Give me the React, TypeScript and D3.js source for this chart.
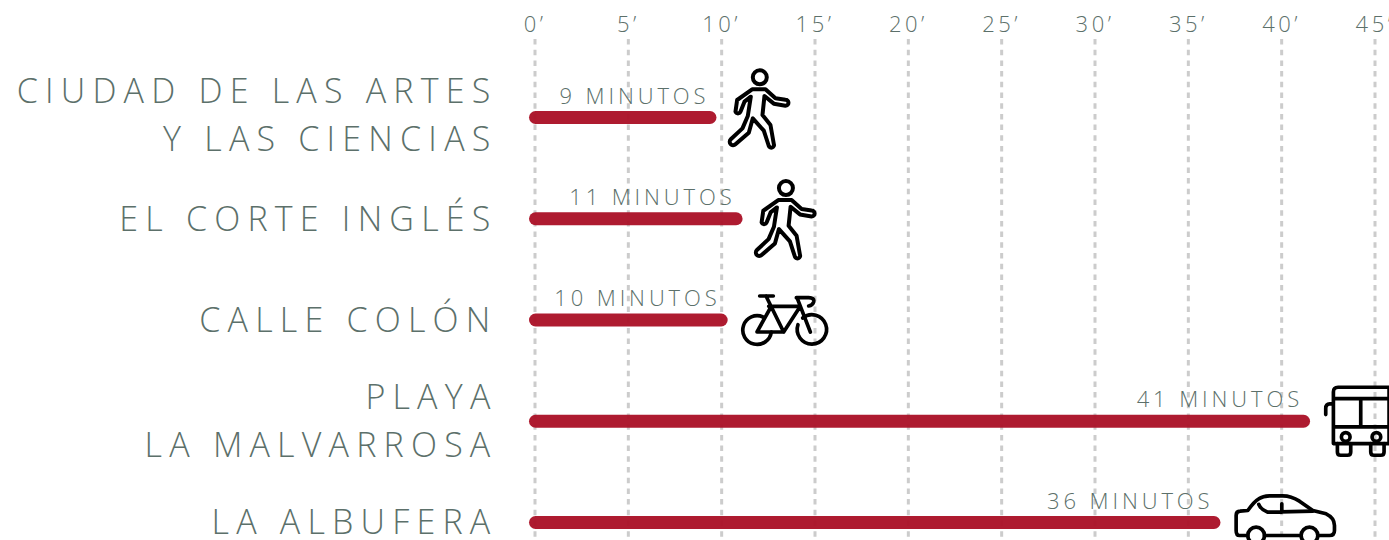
import React from 'react';
import * as d3 from 'd3';

const minuteTicks = [0, 5, 10, 15, 20, 25, 30, 35, 40, 45];
const places = [
  ['CIUDAD DE LAS ARTES', 'Y LAS CIENCIAS'],
  ['EL CORTE INGLÉS'],
  ['CALLE COLÓN'],
  ['PLAYA', 'LA MALVARROSA'],
  ['LA ALBUFERA'],
];
const minuteLabels = [9, 11, 10, 41, 36];
// drawn length of each bar, a little off the label in the original
const barMinutes = [9.4, 10.8, 10, 41.2, 36.4];
const transport = ['walk', 'walk2', 'bike', 'bus', 'car'];

const width = 1389;
const height = 540;
const textColor = '#5c706a';
const barColor = '#ab1228';
const font = '"Open Sans", sans-serif';
const labelNudge = [0, 1, 0, 2, 0];

const x = d3.scaleLinear().domain([0, 45]).range([535, 1375]);
const y = d3.scalePoint<number>().domain([0, 1, 2, 3, 4]).range([117.5, 522.5]);

const iconStyle = {
  fill: 'none',
  stroke: '#000',
  strokeWidth: 11,
  strokeLinecap: 'round' as const,
  strokeLinejoin: 'round' as const,
};

// icons are traced at 3x, offset from the end of their bar
const WalkIcon = () => (
  <g {...iconStyle} strokeWidth={12}>
    <circle cx={118} cy={52} r={21} />
    <path d="M95 88H135L165 115L195 119A9 9 0 0 1 195 137L160 131L132 108L126 165L150 195L160 252A8 8 0 0 1 145 258L130 212L97 175L85 218L45 253A10 10 0 0 1 31 238L66 205L82 168L91 110L72 125L60 155A8 8 0 0 1 45 155L50 120Z" />
  </g>
);

const BikeIcon = () => (
  <g {...iconStyle}>
    <path d="M103 105A43 43 0 1 0 128 150" />
    <path d="M222 108A44 44 0 1 1 208 128" />
    <path d="M93 42H134M112 42L165 150H85L125 78M120 73H215M165 150L215 73M203 47H240Q258 47 255 60Q252 70 240 72M205 47L245 150" />
  </g>
);

const BusIcon = () => (
  <g {...iconStyle}>
    <path d="M133 50Q133 36 147 36H300V205H133ZM133 70H300M133 155H300M215 70V155M133 86H122Q110 86 110 100V118" />
    <circle cx={170} cy={185} r={13} />
    <circle cx={262} cy={185} r={13} />
    <path d="M145 205V230Q145 240 155 240H175Q185 240 185 230V205M245 205V230Q245 240 255 240H275Q285 240 285 230V205" />
  </g>
);

const CarIcon = () => (
  <g {...iconStyle}>
    <path d="M85 165H60Q50 165 50 150V105Q50 92 62 92L85 90Q105 62 118 55Q130 47 150 46H190Q215 46 240 62L280 90L320 100Q345 112 345 135V150Q345 165 330 165H296M135 165H245" />
    <path d="M118 72Q125 88 145 95L280 92M187 70V95" />
    <circle cx={110} cy={165} r={25} />
    <circle cx={270} cy={165} r={25} />
  </g>
);

const icons: Record<string, { Icon: React.FC; dx: number; dy: number }> = {
  walk: { Icon: WalkIcon, dx: 10, dy: -57.5 },
  walk2: { Icon: WalkIcon, dx: 10, dy: -48 },
  bike: { Icon: BikeIcon, dx: 7, dy: -38 },
  bus: { Icon: BusIcon, dx: -15, dy: -46 },
  car: { Icon: CarIcon, dx: 5, dy: -42 },
};

const App = () => (
  <svg
    width={width}
    height={height}
    style={{ position: 'absolute', left: 0, top: 0, background: '#fff' }}
    fontFamily={font}
  >
    <g opacity={0.999}>
      {minuteTicks.map((t) => (
        <g key={t}>
          <line
            x1={x(t)}
            x2={x(t)}
            y1={39}
            y2={height}
            stroke="#cccccc"
            strokeWidth={3}
            strokeDasharray="5.5 5.2"
          />
          <text
            x={x(t)}
            y={32}
            textAnchor="middle"
            fontSize={22}
            fontWeight={300}
            letterSpacing={3.5}
            fill={textColor}
          >
            {`${t}’`}
          </text>
        </g>
      ))}

      {places.map((lines, i) => {
        const rowY = (y(i) as number) + labelNudge[i];
        return lines.map((line, j) => (
          <text
            key={line}
            x={497.5}
            y={lines.length === 1 ? rowY + 11.5 : rowY - 14.5 + j * 48}
            textAnchor="end"
            fontSize={34}
            fontWeight={300}
            letterSpacing={7.2}
            fill={textColor}
          >
            {line}
          </text>
        ));
      })}

      {barMinutes.map((m, i) => {
        const rowY = y(i) as number;
        const { Icon, dx, dy } = icons[transport[i]];
        const end = x(m);
        return (
          <g key={i}>
            <line
              x1={x(0) + 0.5}
              x2={end - 0.5}
              y1={rowY}
              y2={rowY}
              stroke={barColor}
              strokeOpacity={0.96}
              strokeWidth={13}
              strokeLinecap="round"
            />
            <text
              x={end - 1}
              y={rowY - 14}
              textAnchor="end"
              fontSize={22}
              fontWeight={300}
              letterSpacing={3.9}
              fill={textColor}
            >
              {`${minuteLabels[i]} MINUTOS`}
            </text>
            <g transform={`translate(${end + dx},${rowY + dy}) scale(${1 / 3})`}>
              <Icon />
            </g>
          </g>
        );
      })}
    </g>
  </svg>
);

export default App;
